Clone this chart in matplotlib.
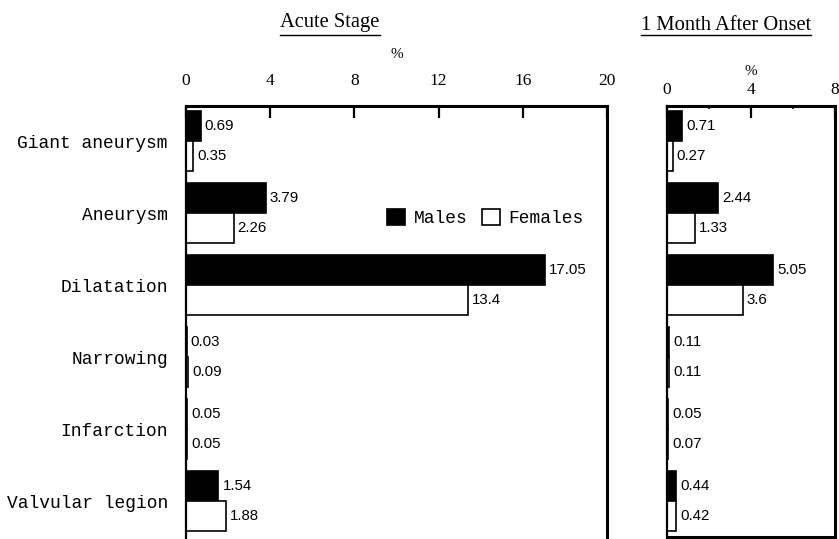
import numpy as np
import matplotlib
matplotlib.use("Agg")
import matplotlib.pyplot as plt
from matplotlib.lines import Line2D

# data (percent)
categories = ["Giant aneurysm", "Aneurysm", "Dilatation", "Narrowing", "Infarction", "Valvular legion"]
acute_males = [0.69, 3.79, 17.05, 0.03, 0.05, 1.54]
acute_females = [0.35, 2.26, 13.4, 0.09, 0.05, 1.88]
month_males = [0.71, 2.44, 5.05, 0.11, 0.05, 0.44]
month_females = [0.27, 1.33, 3.6, 0.11, 0.07, 0.42]
series_names = ["Males", "Females"]
acute_ticks = [0, 4, 8, 12, 16, 20]
month_ticks = [0, 4, 8]

W, H = 839, 539
fig = plt.figure(figsize=(W / 100, H / 100), dpi=100)

mono = dict(family="Liberation Mono", size=12.9)
serif = "Liberation Serif"
label_font = dict(family="Liberation Sans", size=10.8)

pitch = 72.0   # px between categories
first_c = 141  # px from top to centre of first pair
bar_h = 30 / pitch


def px_axes(left, right, top, bottom):
    return fig.add_axes([left / W, 1 - bottom / H, (right - left) / W, (bottom - top) / H])


def draw_panel(ax, males, females, xmax, ticks, top_px, bottom_px, pad, labelpad):
    y = np.arange(len(categories))
    m = ax.barh(y - bar_h / 2, males, height=bar_h, color="black", edgecolor="black", linewidth=1.2)
    f = ax.barh(y + bar_h / 2, females, height=bar_h, color="white", edgecolor="black", linewidth=1.2)
    ax.bar_label(m, fmt="%g", padding=3, **label_font)
    ax.bar_label(f, fmt="%g", padding=3, **label_font)
    ax.set_xlim(0, xmax)
    ax.set_ylim((bottom_px - first_c) / pitch, (top_px - first_c) / pitch)
    ax.xaxis.tick_top()
    ax.xaxis.set_label_position("top")
    ax.set_xticks(ticks)
    ax.set_xticklabels([str(t) for t in ticks], family=serif, fontsize=12.5)
    ax.tick_params(axis="x", direction="in", length=8.5, width=1.6, pad=pad)
    ax.set_xlabel("%", family=serif, fontsize=11, labelpad=labelpad)
    for s in ax.spines.values():
        s.set_linewidth(2.2)
    ax.spines["left"].set_linewidth(1.6)
    return m, f


# acute stage panel runs off the bottom of the figure
ax1 = px_axes(186, 607, 106, 610)
m1, f1 = draw_panel(ax1, acute_males, acute_females, 20, acute_ticks, 106, 610, 12, 11)
ax1.spines["bottom"].set_visible(False)
ax1.set_yticks(np.arange(len(categories)))
ax1.set_yticklabels(categories, **mono)
ax1.tick_params(axis="y", length=0, pad=13)
ax1.legend([m1, f1], series_names, ncol=2, frameon=False, loc="center left",
           bbox_to_anchor=(0.477, 0.778), borderpad=0, borderaxespad=0,
           handlelength=1.0, handleheight=1.0, handletextpad=0.5, columnspacing=0.8,
           prop=mono)

# 1 month panel
ax2 = px_axes(667, 835, 106, 537)
draw_panel(ax2, month_males, month_females, 8, month_ticks, 106, 537, 6, 5)
ax2.set_xticks([2, 6], minor=True)
ax2.tick_params(axis="x", which="minor", direction="in", length=2, width=1.2)
ax2.set_yticks([])

# underlined panel titles
t1 = fig.text(330 / W, 1 - 23 / H, "Acute Stage", ha="center", va="center", family=serif, fontsize=14.8)
t2 = fig.text(726 / W, 1 - 25 / H, "1 Month After Onset", ha="center", va="center", family=serif, fontsize=14.8)
fig.canvas.draw()
inv = fig.transFigure.inverted()
for t in (t1, t2):
    bb = t.get_window_extent()
    x0, _ = inv.transform((bb.x0, 0))
    x1, _ = inv.transform((bb.x1, 0))
    yy = 1 - 35 / H
    fig.add_artist(Line2D([x0, x1], [yy, yy], transform=fig.transFigure, color="black", linewidth=1.0))

fig.savefig("out.png", dpi=100)
